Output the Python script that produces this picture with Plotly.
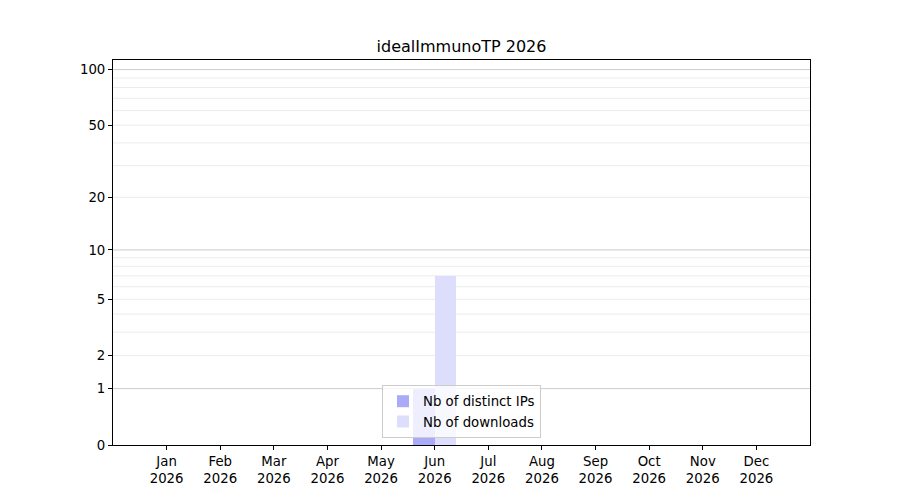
import math
import plotly.graph_objects as go

months = ["Jan", "Feb", "Mar", "Apr", "May", "Jun", "Jul", "Aug", "Sep", "Oct", "Nov", "Dec"]
year = "2026"
distinct_ips = [0, 0, 0, 0, 0, 1, 0, 0, 0, 0, 0, 0]
downloads = [0, 0, 0, 0, 0, 7, 0, 0, 0, 0, 0, 0]
ytick_values = [0, 1, 2, 5, 10, 20, 50, 100]
major_grid = [1, 10, 100]
minor_grid = [2, 3, 4, 5, 6, 7, 8, 9, 20, 30, 40, 50, 60, 70, 80, 90]


def f(v):
    return math.log10(1 + v)


xpos = list(range(1, len(months) + 1))
font = "DejaVu Sans, Liberation Sans, sans-serif"

fig = go.Figure()
fig.add_trace(go.Bar(
    x=xpos, y=[f(v) for v in distinct_ips], width=0.4, offset=-0.4,
    marker=dict(color="#aaaaf8", line=dict(width=0)),
    name="Nb of distinct IPs",
))
fig.add_trace(go.Bar(
    x=xpos, y=[f(v) for v in downloads], width=0.4, offset=0.0,
    marker=dict(color="#ddddfc", line=dict(width=0)),
    name="Nb of downloads",
))

shapes = []
for v in minor_grid:
    shapes.append(dict(type="line", xref="paper", yref="y", x0=0, x1=1, y0=f(v), y1=f(v),
                       line=dict(color="#ececec", width=1), layer="below"))
for v in major_grid:
    shapes.append(dict(type="line", xref="paper", yref="y", x0=0, x1=1, y0=f(v), y1=f(v),
                       line=dict(color="#cccccc", width=1), layer="below"))

fig.update_layout(
    width=900, height=500,
    margin=dict(l=105, r=98, t=52, b=63),
    paper_bgcolor="white", plot_bgcolor="white",
    font=dict(family=font, size=13.3, color="black"),
    title=dict(text=f"idealImmunoTP {year}", x=0.5, xref="paper", y=1 - 38 / 500,
               yref="container", yanchor="middle", xanchor="center",
               font=dict(size=16, family=font, color="black")),
    barmode="overlay",
    bargap=0,
    showlegend=True,
    legend=dict(x=0.5, xanchor="center", y=0.018, yanchor="bottom",
                bgcolor="rgba(255,255,255,0.8)", bordercolor="#cccccc", borderwidth=1,
                font=dict(size=13.3, family=font, color="black"),
                itemsizing="constant", tracegroupgap=0),
    shapes=shapes,
    xaxis=dict(range=[0, 13], tickmode="array", tickvals=xpos,
               ticktext=[f"{m}<br>{year}" for m in months],
               showgrid=False, zeroline=False, showline=True, mirror=True,
               linecolor="black", linewidth=1, ticks="outside", ticklen=4,
               tickcolor="black", tickfont=dict(size=13.3, family=font, color="black")),
    yaxis=dict(range=[0, 2.0555], tickmode="array",
               tickvals=[f(v) for v in ytick_values],
               ticktext=[str(v) for v in ytick_values],
               showgrid=False, zeroline=False, showline=True, mirror=True,
               linecolor="black", linewidth=1, ticks="outside", ticklen=4,
               tickcolor="black", tickfont=dict(size=13.3, family=font, color="black")),
)

fig.write_html("out.html")
